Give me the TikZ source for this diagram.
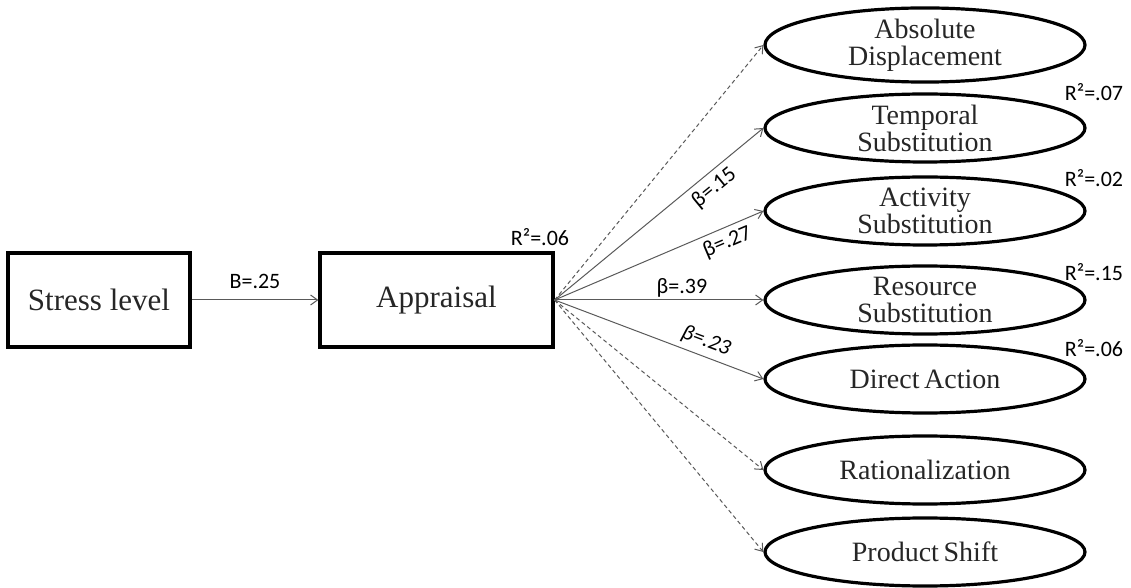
\documentclass[tikz,border=0pt]{standalone}
\usepackage{fontspec}
\setmainfont{Liberation Serif}
\newfontfamily\labelfont{Carlito}
\usetikzlibrary{shapes.geometric,arrows.meta}
\begin{document}
\begin{tikzpicture}[x=0.5pt,y=-0.5pt,
  varbox/.style={draw, line width=1.6pt, minimum width=91pt, minimum height=47pt,
    inner sep=0pt, font=\fontsize{15.5}{18}\selectfont, text=black!85},
  outcome/.style={draw, ellipse, line width=1.6pt, minimum width=160pt, minimum height=34pt,
    inner sep=0pt, align=center, font=\fontsize{14}{13.5}\selectfont, text=black!85},
  path/.style={draw=black!65, line width=0.5pt, -{Straight Barb[length=3.5pt,width=5pt]}},
  nopath/.style={path, dash pattern=on 2pt off 1.5pt},
  coef/.style={font=\labelfont\fontsize{11}{12}\selectfont, inner sep=0.5pt},
]
\useasboundingbox (0,0) rectangle (1131,588);

% predictor and mediator
\node[varbox] (stress) at (99,300) {Stress level};
\node[varbox, minimum width=116.5pt] (app) at (436.5,300) {Appraisal};

% coping outcomes
\node[outcome] (abs) at (925,45)  {Absolute\\Displacement};
\node[outcome] (tmp) at (925,128) {Temporal\\Substitution};
\node[outcome] (act) at (925,211) {Activity\\Substitution};
\node[outcome] (res) at (925,300) {Resource\\Substitution};
\node[outcome] (dir) at (925,379) {Direct\,Action};
\node[outcome] (rat) at (925,470) {Rationalization};
\node[outcome] (prd) at (925,552) {Product\,Shift};

% paths
\draw[path] (stress) -- node[coef, above=5pt] {B=.25} (app);
\draw[nopath] (app.east) -- (abs.west);
\draw[path] (app.east) -- node[coef, pos=0.72, sloped, below=2pt] {β=.15} (tmp.west);
\draw[path] (app.east) -- node[coef, pos=0.80, sloped, below=2pt] {β=.27} (act.west);
\draw[path] (app.east) -- node[coef, pos=0.61, above=0.5pt] {β=.39} (res.west);
\draw[path] (app.east) -- node[coef, pos=0.70, sloped, above=2pt] {\itshape β=.23} (dir.west);
\draw[nopath] (app.east) -- (rat.west);
\draw[nopath] (app.east) -- (prd.west);

% explained variance
\node[coef] (r2app) at (540,237) {R²=.06};
\node[coef] (r2tmp) at (1094,92)  {R²=.07};
\node[coef] (r2act) at (1094,178) {R²=.02};
\node[coef] (r2res) at (1094,272) {R²=.15};
\node[coef] (r2dir) at (1094,348) {R²=.06};
\end{tikzpicture}
\end{document}
